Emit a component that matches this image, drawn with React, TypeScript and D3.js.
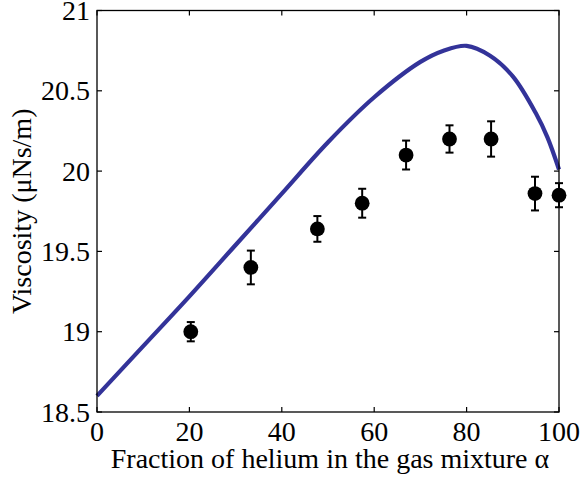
import React from "react";
import * as d3 from "d3";

const curveX = [0, 10, 20, 30, 40, 50, 60, 70, 75, 80, 85, 90, 95, 97.5, 100];
const curveY = [18.6, 18.91, 19.22, 19.54, 19.86, 20.18, 20.46, 20.68, 20.75, 20.78, 20.72, 20.59, 20.36, 20.21, 20.01];

const pointX = [20.3, 33.3, 47.7, 57.4, 66.9, 76.3, 85.3, 94.8, 100];
const pointY = [19.0, 19.4, 19.64, 19.8, 20.1, 20.2, 20.2, 19.86, 19.85];
const pointErr = [0.06, 0.105, 0.08, 0.09, 0.09, 0.085, 0.11, 0.105, 0.075];

const xTicks = [0, 20, 40, 60, 80, 100];
const yTicks = [18.5, 19, 19.5, 20, 20.5, 21];
const yTickLabels = ["18.5", "19", "19.5", "20", "20.5", "21"];

const W = 582;
const H = 480;
const left = 97;
const right = 559;
const top = 10.5;
const bottom = 412;
const FONT = "Liberation Serif";

export default function App() {
  const x = d3.scaleLinear().domain([0, 100]).range([left, right]);
  const y = d3.scaleLinear().domain([18.5, 21]).range([bottom, top]);
  const line = d3
    .line<number>()
    .x((_, i) => x(curveX[i]))
    .y((d) => y(d))
    .curve(d3.curveCatmullRom.alpha(0.5));
  const tl = 5;
  const ts = { fontFamily: FONT, fontSize: "28px" };
  return (
    <svg width={W} height={H} style={{ position: "absolute", left: 0, top: 0 }}>
      <path d={line(curveY) || ""} fill="none" stroke="#333399" strokeWidth={4.2} />
      {pointX.map((px, i) => {
        const cx = x(px);
        const y1 = y(pointY[i] + pointErr[i]);
        const y2 = y(pointY[i] - pointErr[i]);
        return (
          <g key={i}>
            <line x1={cx} x2={cx} y1={y1} y2={y2} stroke="#000" strokeWidth={2} />
            <line x1={cx - 4} x2={cx + 4} y1={y1} y2={y1} stroke="#000" strokeWidth={2} />
            <line x1={cx - 4} x2={cx + 4} y1={y2} y2={y2} stroke="#000" strokeWidth={2} />
            <circle cx={cx} cy={y(pointY[i])} r={7.4} fill="#000" />
          </g>
        );
      })}
      <rect x={left} y={top} width={right - left} height={bottom - top} fill="none" stroke="#000" strokeWidth={1.3} />
      {xTicks.map((t) => (
        <g key={"x" + t}>
          <line x1={x(t)} x2={x(t)} y1={bottom} y2={bottom - tl} stroke="#000" strokeWidth={1.2} />
          <line x1={x(t)} x2={x(t)} y1={top} y2={top + tl} stroke="#000" strokeWidth={1.2} />
          <text x={x(t)} y={441} textAnchor="middle" style={ts}>
            {t}
          </text>
        </g>
      ))}
      {yTicks.map((t, i) => (
        <g key={"y" + t}>
          <line x1={left} x2={left + tl} y1={y(t)} y2={y(t)} stroke="#000" strokeWidth={1.2} />
          <line x1={right} x2={right - tl} y1={y(t)} y2={y(t)} stroke="#000" strokeWidth={1.2} />
          <text x={90} y={y(t) + 9.5} textAnchor="end" style={ts}>
            {yTickLabels[i]}
          </text>
        </g>
      ))}
      <text x={330} y={468} textAnchor="middle" style={ts}>
        Fraction of helium in the gas mixture α
      </text>
      <text
        transform={`translate(31, ${(top + bottom) / 2}) rotate(-90)`}
        textAnchor="middle"
        style={ts}
      >
        Viscosity (μNs/m)
      </text>
    </svg>
  );
}
